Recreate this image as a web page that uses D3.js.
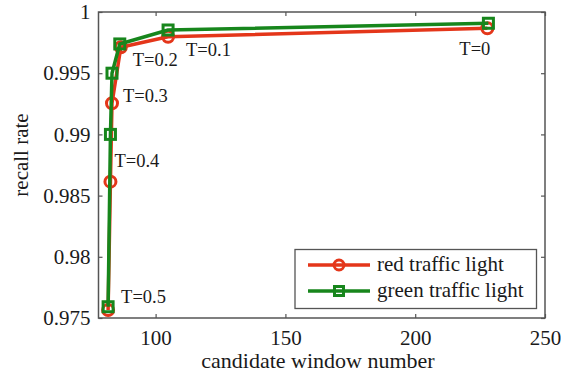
<!DOCTYPE html>
<html>
<head>
<meta charset="utf-8">
<script src="https://cdn.jsdelivr.net/npm/d3@7"></script>
<style>
  body { margin: 0; background: #fff; }
</style>
</head>
<body>
<div id="chart"></div>
<script>
  // data
  var thresholds = ["T=0.5", "T=0.4", "T=0.3", "T=0.2", "T=0.1", "T=0"];
  var redWindows = [81.7, 82.6, 83.2, 86.6, 104.8, 227.8];
  var redRecall = [0.97565, 0.98614, 0.99254, 0.99712, 0.99798, 0.99867];
  var greenWindows = [81.7, 82.6, 83.2, 86.2, 104.8, 228.2];
  var greenRecall = [0.97592, 0.99, 0.995, 0.99739, 0.99853, 0.99908];
  var xTicks = [100, 150, 200, 250];
  var yTicks = [0.975, 0.98, 0.985, 0.99, 0.995, 1];
  var seriesNames = ["red traffic light", "green traffic light"];

  //set dimensions
  var w = 561, h = 375;
  var m = {left: 98.5, top: 12, right: 16, bottom: 57};
  var redCol = "#e4361a", greenCol = "#17861c", axisCol = "#555";
  var serif = "Liberation Serif";

  var svg = d3.select("#chart").append("svg")
      .attr("width", w)
      .attr("height", h)
      .attr("font-family", serif);

  var x = d3.scaleLinear().domain([78, 250]).range([m.left, w - m.right]);
  var y = d3.scaleLinear().domain([0.975, 1]).range([h - m.bottom, m.top]);

  var redPts = redWindows.map(function(d, i) { return [d, redRecall[i]]; });
  var greenPts = greenWindows.map(function(d, i) { return [d, greenRecall[i]]; });

  // box + inward ticks (matlab style)
  var g = svg.append("g");
  g.append("rect")
    .attr("x", x(78)).attr("y", y(1))
    .attr("width", x(250) - x(78)).attr("height", y(0.975) - y(1))
    .attr("fill", "none").attr("stroke", axisCol).attr("stroke-width", 1.5);

  var fmtY = function(d) { return d === 1 ? "1" : d3.format("")(d); };

  g.append("g").attr("transform", "translate(0," + y(0.975) + ")")
    .call(d3.axisBottom(x).tickValues(xTicks).tickSizeInner(-4).tickSizeOuter(0).tickPadding(12));
  g.append("g").attr("transform", "translate(0," + y(1) + ")")
    .call(d3.axisTop(x).tickValues(xTicks).tickSizeInner(-4).tickSizeOuter(0).tickFormat(""));
  g.append("g").attr("transform", "translate(" + x(78) + ",0)")
    .call(d3.axisLeft(y).tickValues(yTicks).tickSizeInner(-4).tickSizeOuter(0).tickPadding(8).tickFormat(fmtY));
  g.append("g").attr("transform", "translate(" + x(250) + ",0)")
    .call(d3.axisRight(y).tickValues(yTicks).tickSizeInner(-4).tickSizeOuter(0).tickFormat(""));

  g.selectAll(".domain").remove();
  g.selectAll(".tick line").attr("stroke", axisCol).attr("stroke-width", 1.2);
  g.selectAll("g").attr("font-family", serif).attr("font-size", 21);
  g.selectAll(".tick text").attr("fill", "#1a1a1a");

  // axis titles
  svg.append("text")
    .attr("x", 318).attr("y", 368)
    .attr("text-anchor", "middle")
    .attr("fill", "#1a1a1a")
    .attr("font-size", 22)
    .text("candidate window number");
  svg.append("text")
    .attr("transform", "translate(28,155) rotate(-90)")
    .attr("text-anchor", "middle")
    .attr("fill", "#1a1a1a")
    .attr("font-size", 21)
    .text("recall rate");

  var line = d3.line()
    .x(function(d) { return x(d[0]); })
    .y(function(d) { return y(d[1]); });

  // red series
  svg.append("path").datum(redPts)
    .attr("d", line).attr("fill", "none")
    .attr("stroke", redCol).attr("stroke-width", 3.5).attr("stroke-linejoin", "round");
  svg.selectAll(".rmark").data(redPts).enter().append("circle")
    .attr("class", "rmark")
    .attr("cx", function(d) { return x(d[0]); })
    .attr("cy", function(d) { return y(d[1]); })
    .attr("r", 5.5)
    .attr("fill", "none").attr("stroke", redCol).attr("stroke-width", 3);

  // green series on top
  svg.append("path").datum(greenPts)
    .attr("d", line).attr("fill", "none")
    .attr("stroke", greenCol).attr("stroke-width", 3.5).attr("stroke-linejoin", "round");
  svg.selectAll(".gmark").data(greenPts).enter().append("rect")
    .attr("class", "gmark")
    .attr("x", function(d) { return x(d[0]) - 5; })
    .attr("y", function(d) { return y(d[1]) - 5; })
    .attr("width", 10).attr("height", 10)
    .attr("fill", "none").attr("stroke", greenCol).attr("stroke-width", 3);

  // threshold labels, offset from the red points
  var labelOffsets = [[13, -7], [4, -15], [11, -1], [12, 19], [18, 19], [-28, 27]];
  svg.selectAll(".tlab").data(thresholds).enter().append("text")
    .attr("class", "tlab")
    .attr("x", function(d, i) { return x(redPts[i][0]) + labelOffsets[i][0]; })
    .attr("y", function(d, i) { return y(redPts[i][1]) + labelOffsets[i][1]; })
    .attr("fill", "#1a1a1a")
    .attr("font-size", 18.5)
    .text(function(d) { return d; });

  // legend
  var lg = svg.append("g");
  lg.append("rect")
    .attr("x", 295).attr("y", 249.5).attr("width", 241.5).attr("height", 59)
    .attr("fill", "#fff").attr("stroke", axisCol).attr("stroke-width", 1.3);
  var legCols = [redCol, greenCol];
  seriesNames.forEach(function(name, i) {
    var ly = 265 + i * 26;
    lg.append("line")
      .attr("x1", 308).attr("x2", 370).attr("y1", ly).attr("y2", ly)
      .attr("stroke", legCols[i]).attr("stroke-width", 3.5);
    if (i === 0) {
      lg.append("circle").attr("cx", 339).attr("cy", ly).attr("r", 5)
        .attr("fill", "none").attr("stroke", legCols[i]).attr("stroke-width", 3);
    } else {
      lg.append("rect").attr("x", 334.5).attr("y", ly - 4.5).attr("width", 9).attr("height", 9)
        .attr("fill", "none").attr("stroke", legCols[i]).attr("stroke-width", 3);
    }
    lg.append("text")
      .attr("x", 377).attr("y", ly + 6)
      .attr("fill", "#1a1a1a")
      .attr("font-size", 21)
      .text(name);
  });
</script>
</body>
</html>
